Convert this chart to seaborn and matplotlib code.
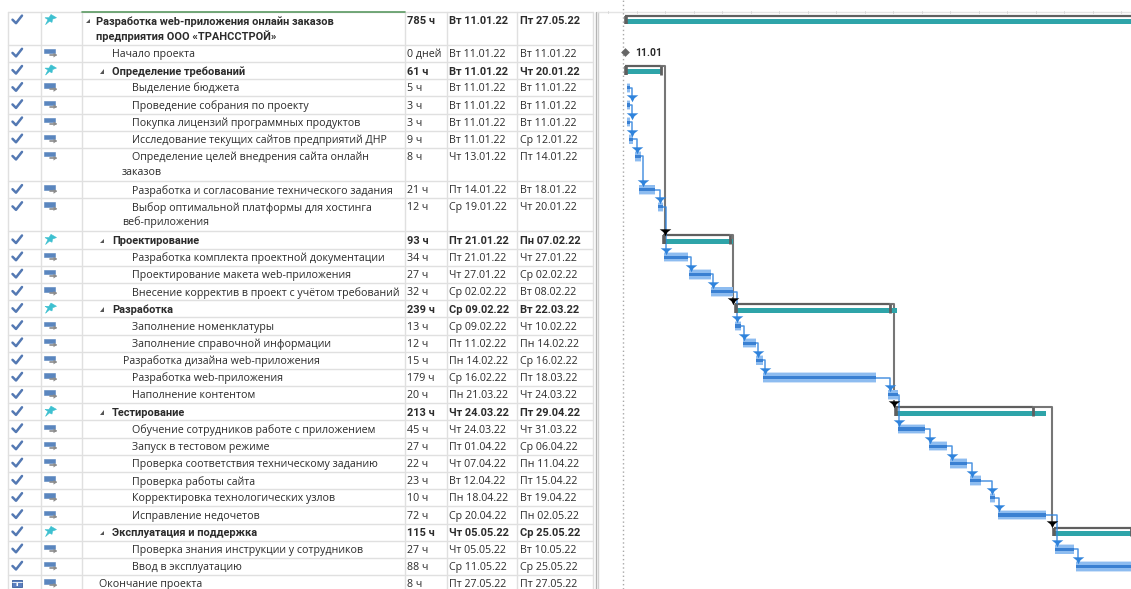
import numpy as np
import pandas as pd
import matplotlib
matplotlib.use("Agg")
import matplotlib.pyplot as plt
from matplotlib.patches import Rectangle, Polygon
import seaborn as sns

# Work breakdown: text lines, kind, indent, duration and calendar dates of each row
task_names = [
    ["Разработка web-приложения онлайн заказов", "предприятия ООО «ТРАНССТРОЙ»"],
    ["Начало проекта"],
    ["Определение требований"],
    ["Выделение бюджета"],
    ["Проведение собрания по проекту"],
    ["Покупка лицензий программных продуктов"],
    ["Исследование текущих сайтов предприятий ДНР"],
    ["Определение целей внедрения сайта онлайн", "заказов"],
    ["Разработка и согласование технического задания"],
    ["Выбор оптимальной платформы для хостинга", "веб-приложения"],
    ["Проектирование"],
    ["Разработка комплекта проектной документации"],
    ["Проектирование макета web-приложения"],
    ["Внесение корректив в проект с учётом требований"],
    ["Разработка"],
    ["Заполнение номенклатуры"],
    ["Заполнение справочной информации"],
    ["Разработка дизайна web-приложения"],
    ["Разработка web-приложения"],
    ["Наполнение контентом"],
    ["Тестирование"],
    ["Обучение сотрудников работе с приложением"],
    ["Запуск в тестовом режиме"],
    ["Проверка соответствия техническому заданию"],
    ["Проверка работы сайта"],
    ["Корректировка технологических узлов"],
    ["Исправление недочетов"],
    ["Эксплуатация и поддержка"],
    ["Проверка знания инструкции у сотрудников"],
    ["Ввод в эксплуатацию"],
    ["Окончание проекта"],
]
kinds = list("RMS" "TTTTTTT" "S" "TTT" "S" "TTTTT" "S" "TTTTTT" "S" "TT" "E")
durations = ["785 ч", "0 дней", "61 ч", "5 ч", "3 ч", "3 ч", "9 ч", "8 ч", "21 ч", "12 ч",
             "93 ч", "34 ч", "27 ч", "32 ч", "239 ч", "13 ч", "12 ч", "15 ч", "179 ч", "20 ч",
             "213 ч", "45 ч", "27 ч", "22 ч", "23 ч", "10 ч", "72 ч", "115 ч", "27 ч", "88 ч", "8 ч"]
start_dates = ["Вт 11.01.22", "Вт 11.01.22", "Вт 11.01.22", "Вт 11.01.22", "Вт 11.01.22", "Вт 11.01.22",
               "Вт 11.01.22", "Чт 13.01.22", "Пт 14.01.22", "Ср 19.01.22", "Пт 21.01.22", "Пт 21.01.22",
               "Чт 27.01.22", "Ср 02.02.22", "Ср 09.02.22", "Ср 09.02.22", "Пт 11.02.22", "Пн 14.02.22",
               "Ср 16.02.22", "Пн 21.03.22", "Чт 24.03.22", "Чт 24.03.22", "Пт 01.04.22", "Чт 07.04.22",
               "Вт 12.04.22", "Пн 18.04.22", "Ср 20.04.22", "Чт 05.05.22", "Чт 05.05.22", "Ср 11.05.22",
               "Пт 27.05.22"]
finish_dates = ["Пт 27.05.22", "Вт 11.01.22", "Чт 20.01.22", "Вт 11.01.22", "Вт 11.01.22", "Вт 11.01.22",
                "Ср 12.01.22", "Пт 14.01.22", "Вт 18.01.22", "Чт 20.01.22", "Пн 07.02.22", "Чт 27.01.22",
                "Ср 02.02.22", "Вт 08.02.22", "Вт 22.03.22", "Чт 10.02.22", "Пн 14.02.22", "Ср 16.02.22",
                "Пт 18.03.22", "Чт 24.03.22", "Пт 29.04.22", "Чт 31.03.22", "Ср 06.04.22", "Пн 11.04.22",
                "Пт 15.04.22", "Вт 19.04.22", "Пн 02.05.22", "Ср 25.05.22", "Вт 10.05.22", "Ср 25.05.22",
                "Пт 27.05.22"]
text_offsets = [96, 112, 112, 132, 132, 132, 132, 132, 132, 132, 112, 132, 132, 132, 112, 132, 132, 123,
                132, 132, 112, 132, 132, 132, 132, 132, 132, 112, 132, 132, 99]
second_line_offsets = {0: 96, 7: 122, 9: 122}

# Gantt values in days since 11.01.22
work_start = [0.45, 0.45, 0.45, 0.98, 2.65, 3.78, 8.81, 10.32, 17.01, 22.83, 29.18, 31.14, 34.58, 36.59,
              69.58, 72.14, 80.34, 85.98, 91.27, 96.56, 98.6, 113.76, 119.31]
work_end = [1.32, 1.32, 1.32, 2.04, 4.15, 7.94, 9.97, 16.67, 22.75, 28.65, 30.61, 34.66, 36.59, 66.4,
            72.09, 79.44, 85.26, 90.56, 94.18, 97.88, 111.38, 118.86, 135.0]
summary_start = [0.0, 0.0, 10.05, 29.1, 71.4, 113.4]
summary_end = [137.0, 9.6, 28.65, 72.0, 111.4, 134.5]
baseline_end = [137.0, 9.5, 27.8, 70.2, 108.0, 133.9]
link_end = [None, 10.6, 28.7, 71.2, 113.0, None]
milestone_day = [0.0]
milestone_label = ["11.01"]

W, H = 1131, 589
DAY_PX = 3.78
DAY0_PX = 625.0
GANTT_LEFT = 597

sns.set_theme(style="white")
plt.rcParams["font.family"] = ["Open Sans", "DejaVu Sans"]

# Row geometry is derived from how many text lines each row holds
SINGLE, DOUBLE = 17.18, 33.2
heights = np.array([DOUBLE if len(n) == 2 else SINGLE for n in task_names])
tops = 11.6 + np.concatenate([[0], np.cumsum(heights)[:-1]])
centers = tops + 8.6
TEXT_DROP = 1.1

fig = plt.figure(figsize=(W / 100, H / 100), dpi=100)
table = fig.add_axes([0, 0, 1, 1])
table.set_xlim(0, W)
table.set_ylim(H, 0)
table.axis("off")

GRID = "#e0e0e0"
TEXT = "#2b2b2b"
FS = 7.7
# The bold rows run narrower than the regular ones
BOLD = dict(fontfamily=["Roboto", "DejaVu Sans"], fontweight="bold", fontsize=7.95)
REGULAR = dict(fontsize=FS)

for top in list(tops) + [tops[-1] + heights[-1]]:
    table.plot([8, 593], [top, top], color=GRID, lw=1)
for x in [8, 41, 82, 404.5, 447, 517, 593]:
    table.plot([x, x], [12, H], color=GRID, lw=1)
table.plot([82, 404.5], [11.5, 11.5], color="#5b9a63", lw=1.2)
table.plot([595.5, 595.5], [12, H], color="#b4b4b4", lw=1)
table.plot([597.5, 597.5], [12, H], color="#d0d0d0", lw=1)
table.plot([597, W], [12, 12], color="#e4e4e4", lw=1)
for x in np.arange(608, W, 28.5):
    table.plot([x, x], [11, 13], color="#d8d8d8", lw=0.7)

CHECK = "#5479b3"
PIN = "#3dc0d0"
ICON = "#5a86bf"


def draw_row_icons(c, kind):
    if kind != "E":
        table.plot([12.5, 16, 22], [c - 0.5, c + 3, c - 4.6], color=CHECK, lw=1.8,
                   solid_capstyle="round", solid_joinstyle="round")
    else:
        table.add_patch(Rectangle((12, c - 4), 10, 7, fc="#5b7fc0", ec="#3c5f9c", lw=0.6))
        table.plot([12, 22], [c - 2, c - 2], color="white", lw=0.6)
        table.plot([15.5, 18.7], [c + 0.3, c + 0.3], color="white", lw=2.2, ls=(0, (0.5, 0.5)))
    if kind in "RS":
        table.add_patch(Polygon([(51, c - 5.7), (56.5, c - 2.5), (52.5, c - 1), (52, c + 2.2), (49.5, c + 1),
                                 (45.5, c + 4.5), (48, c - 0.5), (45, c - 2.5), (49, c - 2.5)],
                                fc=PIN, ec=PIN, lw=0.4))
    else:
        table.add_patch(Rectangle((44, c - 4.4), 10.5, 4.4, fc=ICON, ec=ICON, lw=0.4))
        table.plot([50, 56], [c + 1.7, c + 1.7], color="#8c8c8c", lw=1.2)
        table.add_patch(Polygon([(53.5, c - 0.7), (57, c + 1.7), (53.5, c + 4.1)], fc="#8c8c8c", ec="none"))


for i, (names, kind) in enumerate(zip(task_names, kinds)):
    c = centers[i]
    t = c + TEXT_DROP
    style = BOLD if kind in "RS" else REGULAR
    draw_row_icons(c, kind)
    table.text(text_offsets[i], t, names[0], color=TEXT, va="center", **style)
    if len(names) == 2:
        table.text(second_line_offsets[i], t + 14.6, names[1], color=TEXT, va="center", **style)
    table.text(407, t, durations[i], color=TEXT, va="center", **style)
    table.text(449, t, start_dates[i], color=TEXT, va="center", **style)
    table.text(520, t, finish_dates[i], color=TEXT, va="center", **style)
    if kind in "RS":
        tx = 88 if kind == "R" else 102
        table.add_patch(Polygon([(tx - 2.5, t + 2), (tx + 2, t + 2), (tx + 2, t - 2.5)], fc="#555555", ec="none"))

# Gantt panel: days on x, same pixel rows on y as the table
gantt = fig.add_axes([GANTT_LEFT / W, 0, (W - GANTT_LEFT) / W, 1])
gantt.patch.set_alpha(0)
xlim = ((GANTT_LEFT - DAY0_PX) / DAY_PX, (W - DAY0_PX) / DAY_PX)

work_idx = [i for i, k in enumerate(kinds) if k == "T"]
summary_idx = [i for i, k in enumerate(kinds) if k in "RS"]
work = pd.DataFrame({"row": centers[work_idx], "start": work_start, "end": work_end})
work["length"] = work["end"] - work["start"]
summary = pd.DataFrame({"row": centers[summary_idx] + 1.4, "start": summary_start, "end": summary_end})
summary["length"] = summary["end"] - summary["start"]

HALO = "#cfe2f8"
LIGHT = "#8dbcf0"
DARK = "#3a80d2"
TEAL = "#2ea4a9"
LINK = "#2f83dc"
GREY = "#5f5f5f"
# Flat-topped arrowhead used on dependency links
ARROW = [(-1.0, 0.55), (1.0, 0.55), (0.35, 0.05), (0.0, -0.65), (-0.35, 0.05)]


def floating_bars(frame, px_height, color, **kw):
    # barplot's native scale sizes bars by the smallest row gap, so the factor is taken from it
    gap = np.diff(np.sort(frame["row"].to_numpy())).min()
    sns.barplot(data=frame, x="length", y="row", left=frame["start"].to_numpy(), orient="y", native_scale=True,
                width=px_height / gap, color=color, saturation=1, linewidth=0, ax=gantt, **kw)


# Black summary brackets and their links, drawn under the bars
for j, i in enumerate(summary_idx):
    s, e, b = summary_start[j], baseline_end[j], link_end[j]
    top = centers[i] - 4.6
    gantt.plot([s, e], [top, top], color=GREY, lw=1.6, solid_capstyle="butt", zorder=2)
    gantt.plot([s + 0.2, s + 0.2], [top, top + 8.6], color=GREY, lw=2.6, solid_capstyle="butt", zorder=6)
    gantt.plot([e, e], [top, top + 8.6], color=GREY, lw=2.0, solid_capstyle="butt", zorder=6)
    if b is not None:
        nxt = centers[summary_idx[j + 1]] - 8
        gantt.plot([e, b, b], [top, top, nxt], color="#767676", lw=1.5, solid_joinstyle="round", zorder=2)
        sns.scatterplot(x=[b], y=[nxt], marker=ARROW, s=70, color="black", linewidth=0, ax=gantt, zorder=7)

floating_bars(summary, 5.0, TEAL, zorder=3)
floating_bars(work, 10.2, HALO, zorder=3)
floating_bars(work, 8.4, LIGHT, zorder=3.1)
floating_bars(work, 3.2, DARK, zorder=4)

# Finish-to-start links between successive work rows
for a in range(len(work) - 1):
    y0, y1 = work["row"].iloc[a], work["row"].iloc[a + 1] - 5.5
    link_x = max(work["start"].iloc[a + 1] + 0.4, work["end"].iloc[a] + 0.5)
    gantt.plot([work["end"].iloc[a], link_x, link_x], [y0, y0, y1], color=LINK, lw=1.1, alpha=0.85, zorder=5)
    sns.scatterplot(x=[link_x], y=[y1 - 1], marker=ARROW, s=70, color=LINK, linewidth=0, ax=gantt, zorder=6)

# Project start milestone with its date label
ms_y = centers[kinds.index("M")]
sns.scatterplot(x=milestone_day, y=[ms_y - 1], marker="D", s=20, color="#666666", linewidth=0, ax=gantt, zorder=6)
gantt.text(milestone_day[0] + 2.6, ms_y - 0.4, milestone_label[0], color=TEXT, va="center",
           **{**BOLD, "fontsize": 7.5})

gantt.axvline(-0.65, color="#a8a8a8", lw=1, ls=(0, (1, 2)), zorder=1)
gantt.set_xlim(*xlim)
gantt.set_ylim(H, 0)
gantt.set_xlabel("")
gantt.set_ylabel("")
gantt.axis("off")
fig.savefig("out.png", dpi=100)
